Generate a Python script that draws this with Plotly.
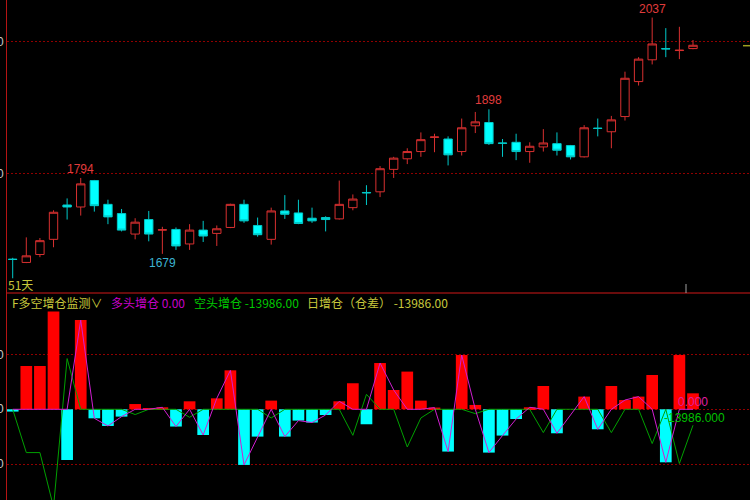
import plotly.graph_objects as go

# ---------------- data ----------------
days = list(range(51))
opens = [1671, 1666, 1678, 1701, 1753, 1750, 1790, 1754, 1740, 1709,
         1731, 1715, 1716, 1694, 1715, 1710, 1719, 1754, 1722, 1701,
         1744, 1741, 1733, 1734, 1732, 1749, 1772, 1773, 1807, 1823,
         1834, 1855.5, 1853, 1834, 1873, 1878, 1847, 1848, 1834, 1841,
         1846, 1843, 1826, 1869.5, 1864, 1887, 1940, 1973, 1990, 1987, 1990]
highs = [1673, 1704, 1703, 1745, 1763, 1794, 1791, 1761, 1747, 1733,
         1744, 1720, 1719, 1724, 1729, 1722, 1755, 1761, 1734, 1749,
         1768, 1761, 1749, 1736, 1790, 1769, 1783, 1812, 1826, 1839,
         1863, 1861, 1857, 1884, 1894, 1898, 1853, 1861, 1848, 1868,
         1863, 1844, 1874, 1884, 1888, 1955, 1977, 2037, 2021, 2023, 2003]
lows = [1642, 1665, 1674, 1689, 1731, 1737, 1743, 1724, 1713, 1701,
        1698, 1679, 1685, 1685, 1697, 1691, 1718, 1726, 1705, 1693,
        1732, 1724, 1726, 1713, 1731, 1745, 1753, 1765, 1794, 1815,
        1826, 1833, 1813, 1828, 1862, 1844, 1826, 1821, 1817, 1834,
        1828, 1822, 1825, 1857, 1839, 1881, 1934, 1966, 1977, 1974, 1989]
closes = [1670.5, 1676, 1699, 1742, 1750, 1785, 1752, 1735, 1715, 1727,
          1709, 1715.5, 1691, 1715, 1706, 1717, 1754, 1729, 1708, 1744,
          1739, 1725, 1729, 1731, 1754, 1762, 1771.5, 1808, 1824, 1834,
          1852, 1856, 1829, 1870, 1879, 1846, 1846.5, 1834, 1842, 1847,
          1836, 1826, 1870, 1869, 1882, 1945, 1974, 1997, 1989.5, 1987.5, 1995]

# daily open-interest change (bars), long increase, short increase
oi_change = [-2000, 37900, 37900, 85500, -44400, 78100, -7900, -14600, -6400, 4600,
             400, 1750, -15100, 7000, -22500, 9600, 34100, -48700, -23900, 7600,
             -23900, -9900, -11600, -5000, 7000, 22800, -13100, 40500, 16900, 33000,
             7600, 1500, -37000, 47500, 3800, -37900, -23000, -8500, 1750, 20400,
             -21000, 0, 11100, -17500, 20400, 8100, 11100, 30000, -46400, 47500, 13986]
long_inc = [0, 0, 0, 0, 0, 78100, -7900, -14600, -6400, 0,
            0, 1750, -15100, 0, -22500, 9600, 34100, -48700, -23900, 0,
            -23900, -9900, -11600, -5000, 7000, 0, 0, 40500, 16900, 0,
            0, 1500, -37000, 47500, 0, -37900, -23000, -8500, 1750, 0,
            -21000, -5000, 11100, -17500, 0, 8100, 11100, 0, -46400, 0, 0]
short_inc = [0, -37900, -37900, -85500, 44400, 0, 0, 0, 0, -4600,
             0, 0, 0, -7000, 0, 0, 0, 0, 0, -7600,
             0, 0, 0, 0, 0, -22800, 13100, 0, 0, -33000,
             -7600, 0, 0, 0, -3800, 0, 0, 0, 0, -20400,
             0, 0, 0, 0, -20400, 0, 0, -30000, 0, -47500, -13986]

price_ticks = [1800, 2000]
price_tick_text = ["1800", "2000"]
ind_ticks = [-48000, 0, 48000]
ind_tick_text = ["-48000", "0", "48000"]

# ---------------- styling ----------------
BG = "#000000"
RED_C = "#D83030"
CYAN_C = "#00C8C8"
CYAN_F = "#00FFFF"
BAR_RED = "#FF0000"
BAR_CYAN = "#00FFFF"
MAGENTA = "#D21ED2"
GREEN = "#00A000"
YELLOW = "#C8C83C"
GRID = "#900000"

W, H = 750, 500
L = 7
PW = W - L


def px_x(px):
    return (px - L) / PW


def px_y(py):
    return 1 - py / H


split = 293 / H  # separator position from top

fig = go.Figure()

fig.add_trace(go.Candlestick(
    x=days, open=opens, high=highs, low=lows, close=closes,
    increasing=dict(line=dict(color=RED_C, width=1), fillcolor=BG),
    decreasing=dict(line=dict(color=CYAN_C, width=1), fillcolor=CYAN_F),
    whiskerwidth=0, hoverinfo="skip", xaxis="x", yaxis="y",
))

bar_colors = [BAR_RED if v > 0 else BAR_CYAN for v in oi_change]
fig.add_trace(go.Bar(
    x=days, y=oi_change, marker=dict(color=bar_colors, line=dict(width=0)),
    width=0.86, xaxis="x2", yaxis="y2", hoverinfo="skip",
))
fig.add_trace(go.Scatter(
    x=days, y=short_inc, mode="lines", line=dict(color=GREEN, width=1),
    xaxis="x2", yaxis="y2", hoverinfo="skip",
))
fig.add_trace(go.Scatter(
    x=days, y=long_inc, mode="lines", line=dict(color=MAGENTA, width=1),
    xaxis="x2", yaxis="y2", hoverinfo="skip",
))

xr = [(L - 12.7) / 13.606, (W - 12.7) / 13.606]

annotations = []
num_font = dict(family="Liberation Sans, Arial", size=12)
hi_idx = [5, 35, 47]
for i in hi_idx:
    annotations.append(dict(x=days[i], y=highs[i], xref="x", yref="y",
                            text=str(int(round(highs[i]))), showarrow=False,
                            yanchor="bottom", xanchor="center",
                            font=dict(num_font, color="#E03C3C")))
lo_idx = 11
annotations.append(dict(x=days[lo_idx], y=lows[lo_idx], xref="x", yref="y",
                        text=str(int(round(lows[lo_idx]))), showarrow=False,
                        yanchor="top", xanchor="center",
                        font=dict(num_font, color="#3CB4D2")))
annotations.append(dict(x=px_x(6), y=px_y(284), xref="paper", yref="paper",
                        text=f"{len(days)}天", showarrow=False, xanchor="left",
                        yanchor="middle",
                        font=dict(family="Noto Sans CJK SC", size=12, color=YELLOW)))

hdr_font = "Noto Sans CJK SC"
hdr_y = px_y(302.5)
headers = [
    (10, "F多空增仓监测∨", YELLOW),
    (109, f"多头增仓 {long_inc[-1]:.2f}", "#C800C8"),
    (192, f"空头增仓 {short_inc[-1]:.2f}", "#00C800"),
    (305, f"日增仓（仓差） {short_inc[-1]:.2f}", YELLOW),
]
for xp, txt, col in headers:
    annotations.append(dict(x=px_x(xp), y=hdr_y, xref="paper", yref="paper",
                            text=txt, showarrow=False, xanchor="left",
                            yanchor="middle",
                            font=dict(family=hdr_font, size=12, color=col)))

annotations.append(dict(x=px_x(676), y=long_inc[-1], xref="paper", yref="y2",
                        text=f"{long_inc[-1]:.3f}", showarrow=False,
                        xanchor="left", yanchor="middle", yshift=7,
                        font=dict(family="Liberation Sans, Arial", size=12, color="#E01EA0")))
annotations.append(dict(x=px_x(662), y=short_inc[-1], xref="paper", yref="y2",
                        text=f"{short_inc[-1]:.3f}", showarrow=False,
                        xanchor="left", yanchor="middle", yshift=7,
                        font=dict(family="Liberation Sans, Arial", size=12, color="#00C000")))

shapes = [
    dict(type="line", xref="paper", yref="paper", x0=0, x1=1,
         y0=1 - split, y1=1 - split, line=dict(color="#8C1010", width=1.5)),
    dict(type="line", xref="paper", yref="paper", x0=px_x(686), x1=px_x(686),
         y0=px_y(284), y1=px_y(293), line=dict(color="#A0A0A0", width=1)),
    dict(type="line", xref="paper", yref="paper", x0=px_x(743), x1=1,
         y0=px_y(45.7), y1=px_y(45.7), line=dict(color="#A0A020", width=1.5)),
]

fig.update_layout(
    width=W, height=H,
    paper_bgcolor=BG, plot_bgcolor=BG,
    margin=dict(l=L, r=0, t=0, b=0, autoexpand=False),
    showlegend=False, hovermode=False, boxgap=0.12,
    xaxis=dict(domain=[0, 1], range=xr, visible=False, anchor="y",
               rangeslider=dict(visible=False), automargin=False),
    xaxis2=dict(domain=[0, 1], range=xr, visible=False, anchor="y2", matches="x",
                automargin=False),
    yaxis=dict(domain=[1 - split, 1], range=[1619.7, 2063.6], automargin=False,
               tickvals=price_ticks, ticktext=price_tick_text,
               showgrid=True, gridcolor=GRID, griddash="2px,2px", gridwidth=1,
               zeroline=False, showline=True, linecolor="#B41414", linewidth=1,
               ticks="", tickfont=dict(family="Liberation Sans", size=12, color="#C8C8C8"),
               fixedrange=True),
    yaxis2=dict(domain=[0, 1 - split], range=[-79400, 101800], automargin=False,
                tickvals=ind_ticks, ticktext=ind_tick_text,
                showgrid=True, gridcolor=GRID, griddash="2px,2px", gridwidth=1,
                zeroline=False, showline=True, linecolor="#B41414", linewidth=1,
                ticks="", tickfont=dict(family="Liberation Sans", size=12, color="#C8C8C8"),
                fixedrange=True),
    annotations=annotations,
    shapes=shapes,
)

fig.write_html(
    "out.html",
    config={"displayModeBar": False},
    post_script="document.body.style.margin='0';document.body.style.background='#000';"
                "document.body.style.overflow='hidden';",
)
